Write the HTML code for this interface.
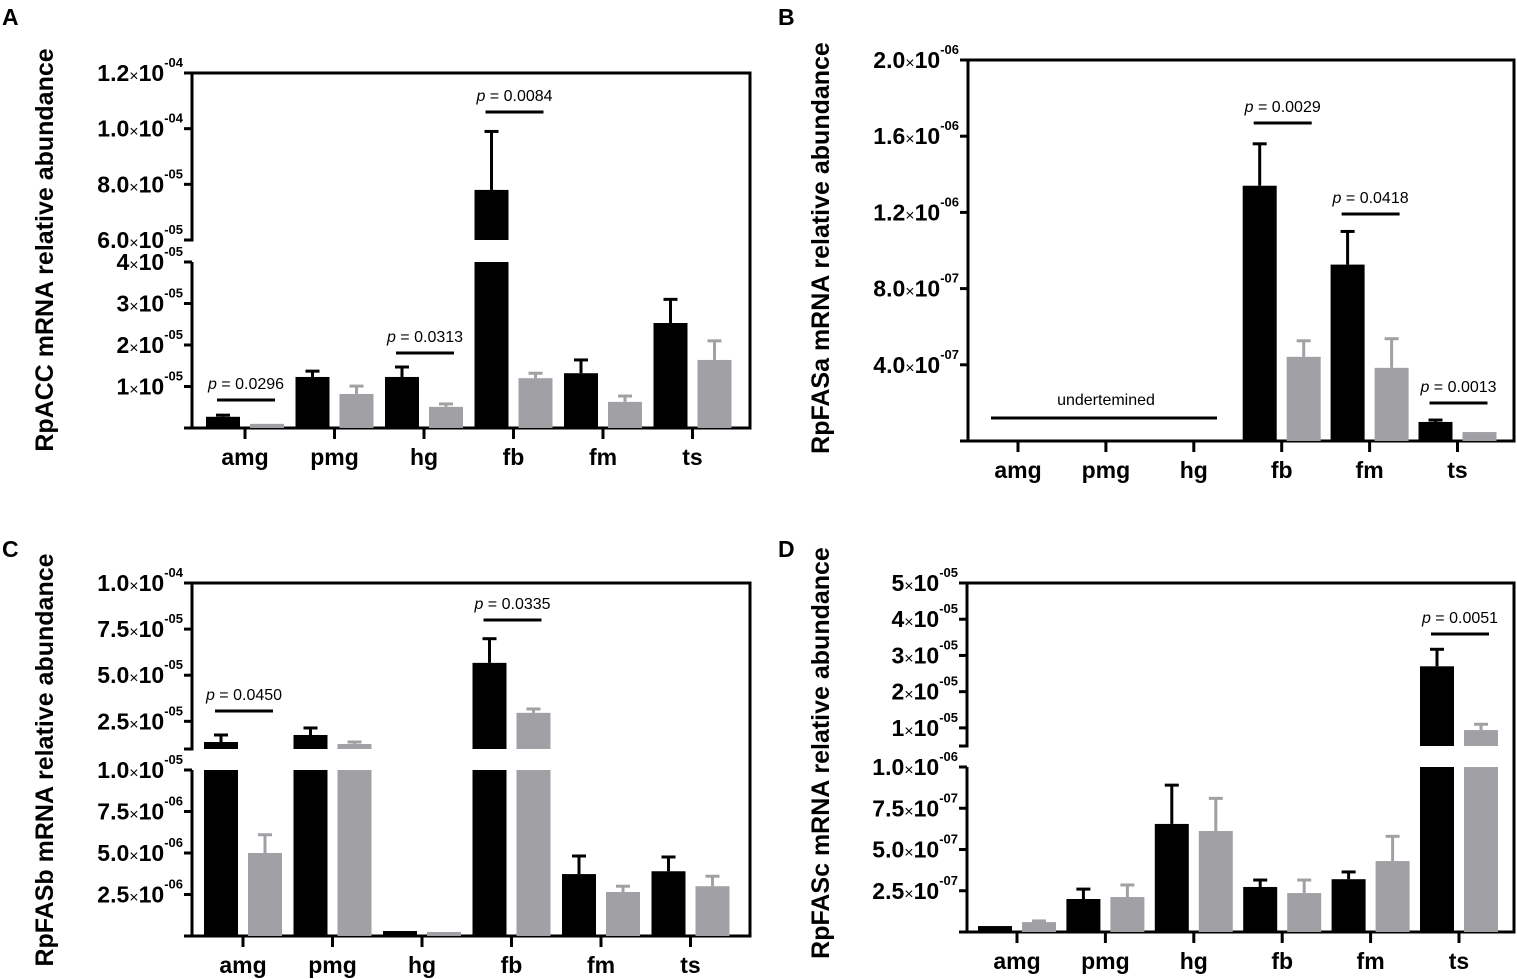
<!DOCTYPE html>
<html><head><meta charset="utf-8"><style>
html,body{margin:0;padding:0;background:#fff;}
svg{display:block;font-family:"Liberation Sans",Arial,sans-serif;}
</style></head><body>
<svg id="fig" width="1517" height="979" viewBox="0 0 1517 979"></svg>
<script>
// ---- data ----
const categories = ["amg","pmg","hg","fb","fm","ts"];
// Panel A RpACC
const aBlack = [2.7e-6, 1.23e-5, 1.23e-5, 7.8e-5, 1.32e-5, 2.53e-5];
const aBlackErr = [3.1e-6, 1.37e-5, 1.47e-5, 9.9e-5, 1.64e-5, 3.1e-5];
const aGray = [1.0e-6, 8.2e-6, 5.1e-6, 1.2e-5, 6.3e-6, 1.64e-5];
const aGrayErr = [1.0e-6, 1.01e-5, 5.8e-6, 1.32e-5, 7.7e-6, 2.1e-5];
const aPvals = [["amg","0.0296"],["hg","0.0313"],["fb","0.0084"]];
// Panel B RpFASa (amg,pmg,hg undetermined)
const bBlack = [null, null, null, 1.34e-6, 9.26e-7, 1.0e-7];
const bBlackErr = [null, null, null, 1.56e-6, 1.1e-6, 1.1e-7];
const bGray = [null, null, null, 4.42e-7, 3.84e-7, 4.7e-8];
const bGrayErr = [null, null, null, 5.26e-7, 5.37e-7, 4.7e-8];
const bPvals = [["fb","0.0029"],["fm","0.0418"],["ts","0.0013"]];
// Panel C RpFASb
const cBlack = [1.38e-5, 1.76e-5, 3.0e-7, 5.67e-5, 3.73e-6, 3.9e-6];
const cBlackErr = [1.76e-5, 2.14e-5, 3.0e-7, 6.98e-5, 4.82e-6, 4.76e-6];
const cGray = [5.0e-6, 1.27e-5, 2.4e-7, 2.96e-5, 2.65e-6, 3.0e-6];
const cGrayErr = [6.1e-6, 1.38e-5, 2.4e-7, 3.17e-5, 3.0e-6, 3.6e-6];
const cPvals = [["amg","0.0450"],["fb","0.0335"]];
// Panel D RpFASc
const dBlack = [3.6e-8, 2.0e-7, 6.55e-7, 2.73e-7, 3.2e-7, 2.7e-5];
const dBlackErr = [3.6e-8, 2.6e-7, 8.9e-7, 3.15e-7, 3.64e-7, 3.17e-5];
const dGray = [6.0e-8, 2.12e-7, 6.12e-7, 2.36e-7, 4.3e-7, 9.4e-6];
const dGrayErr = [6.7e-8, 2.85e-7, 8.1e-7, 3.15e-7, 5.8e-7, 1.1e-5];
const dPvals = [["ts","0.0051"]];
// tick labels
const aTicks = [[1e-5,"1","05"],[2e-5,"2","05"],[3e-5,"3","05"],[4e-5,"4","05"],[6e-5,"6.0","05"],[8e-5,"8.0","05"],[1e-4,"1.0","04"],[1.2e-4,"1.2","04"]];
const bTicks = [[4e-7,"4.0","07"],[8e-7,"8.0","07"],[1.2e-6,"1.2","06"],[1.6e-6,"1.6","06"],[2e-6,"2.0","06"]];
const cTicks = [[2.5e-6,"2.5","06"],[5e-6,"5.0","06"],[7.5e-6,"7.5","06"],[1e-5,"1.0","05"],[2.5e-5,"2.5","05"],[5e-5,"5.0","05"],[7.5e-5,"7.5","05"],[1e-4,"1.0","04"]];
const dTicks = [[2.5e-7,"2.5","07"],[5e-7,"5.0","07"],[7.5e-7,"7.5","07"],[1e-6,"1.0","06"],[1e-5,"1","05"],[2e-5,"2","05"],[3e-5,"3","05"],[4e-5,"4","05"],[5e-5,"5","05"]];

const NS="http://www.w3.org/2000/svg";
const svg=document.getElementById('fig');
function el(tag,attrs,parent){const e=document.createElementNS(NS,tag);for(const k in attrs)e.setAttribute(k,attrs[k]);(parent||svg).appendChild(e);return e;}

function panel(cfg){
  const g=el('g',{});
  
  
  const segs=cfg.segs;
  function y(v){
    for(const s of segs){ if(v<=s.v1 || s===segs[segs.length-1]){ const vv=Math.max(v,s.v0); return s.y0+(vv-s.v0)/(s.v1-s.v0)*(s.y1-s.y0);} }
  }
  function cx(i){return cfg.first+i*cfg.step;}
  const fr=el('path',{d:`M${cfg.x0} ${cfg.top}H${cfg.x1}V${cfg.bottom}H${cfg.x0}`,fill:'none',stroke:'#000','stroke-width':3},g);
  
  
  for(const s of segs){
    const ax=el('line',{x1:cfg.x0,x2:cfg.x0,y1:s.y0+1.5,y2:s.y1,stroke:'#000','stroke-width':3},g);
    
    
    el('line',{x1:cfg.x0-8,x2:cfg.x0,y1:s.y0,y2:s.y0,stroke:'#000','stroke-width':3},g);
    el('line',{x1:cfg.x0-8,x2:cfg.x0,y1:s.y1,y2:s.y1,stroke:'#000','stroke-width':3},g);
  }
  for(const t of cfg.ticks){
    const ty=y(t[0]);
    el('line',{x1:cfg.x0-8,x2:cfg.x0,y1:ty,y2:ty,stroke:'#000','stroke-width':3},g);
    const tx=el('text',{x:cfg.x0-9,y:ty+8,'text-anchor':'end','font-size':23,'font-weight':'bold'},g);
    
    
    const t1=el('tspan',{},tx); t1.textContent=t[1];
    const t2=el('tspan',{'font-size':16,'font-weight':'normal'},tx); t2.textContent='\u00d7';
    const t3=el('tspan',{},tx); t3.textContent='10';
    const t4=el('tspan',{'font-size':13,dy:-14},tx); t4.textContent='-'+t[2];
  }
  categories.forEach((c,i)=>{
    el('line',{x1:cx(i),x2:cx(i),y1:cfg.bottom,y2:cfg.bottom+11,stroke:'#000','stroke-width':3},g);
    const tl=el('text',{x:cx(i),y:cfg.bottom+37,'text-anchor':'middle','font-size':23,'font-weight':'bold'},g);
    
    
    tl.textContent=c;
  });
  const breakTop = segs.length>1 ? segs[0].y1 : null;
  function bar(i,v,e,color,off,name){
    if(v==null) return;
    const x=cx(i)+off-17, w=34, yb=y(0), yv=y(v);
    const ye=y(e);
    if(ye<yv-1){
      el('line',{x1:x+w/2,x2:x+w/2,y1:yv,y2:ye,stroke:color,'stroke-width':3},g);
      el('line',{x1:x+w/2-7,x2:x+w/2+7,y1:ye,y2:ye,stroke:color,'stroke-width':3},g);
    }
    if(segs.length>1 && v>segs[0].v1){
      const r1=el('rect',{x:x,y:breakTop,width:w,height:yb-breakTop,fill:color},g);
      
      
      const r2=el('rect',{x:x,y:yv,width:w,height:segs[1].y0-yv,fill:color},g);
      
      
    } else {
      const r=el('rect',{x:x,y:yv,width:w,height:Math.max(yb-yv,2),fill:color},g);
      
      
    }
  }
  categories.forEach((c,i)=>{
    bar(i,cfg.black[i],cfg.blackErr[i],'#000',-22,'bar-black-'+c);
    bar(i,cfg.gray[i],cfg.grayErr[i],'#a1a1a5',22,'bar-gray-'+c);
  });
  cfg.pv.forEach((p,k)=>{
    const i=categories.indexOf(p[0]);
    const ly=cfg.pY[k];
    const pl=el('line',{x1:cx(i)-28,x2:cx(i)+30,y1:ly,y2:ly,stroke:'#000','stroke-width':3},g);
    
    
    const pt=el('text',{x:cx(i)+1,y:ly-11,'text-anchor':'middle','font-size':16},g);
    
    
    const s1=el('tspan',{'font-style':'italic'},pt); s1.textContent='p';
    const s2=el('tspan',{},pt); s2.textContent=' = '+p[1];
  });
  const yt=el('text',{transform:`translate(${cfg.titleX},${cfg.titleY}) rotate(-90)`,'text-anchor':'middle','font-size':25,'font-weight':'bold'},g);
  
  
  yt.textContent=cfg.title;
  const lt=el('text',{x:cfg.letterX,y:cfg.letterY,'font-size':23,'font-weight':'bold'},g);
  
  
  lt.textContent=cfg.id;
  return {g,y,cx};
}

panel({id:'A',x0:192,x1:750,top:73,bottom:428,first:245,step:89.5,
  segs:[{v0:0,v1:4e-5,y0:428,y1:262},{v0:6e-5,v1:1.2e-4,y0:240,y1:73}],
  ticks:aTicks,black:aBlack,blackErr:aBlackErr,gray:aGray,grayErr:aGrayErr,pv:aPvals,pY:[400,353,112],
  title:'RpACC mRNA relative abundance',titleX:53,titleY:250,letterX:2,letterY:25});
panel({id:'B',x0:968,x1:1514,top:60,bottom:441,first:1018,step:87.9,
  segs:[{v0:0,v1:2e-6,y0:441,y1:60}],
  ticks:bTicks,black:bBlack,blackErr:bBlackErr,gray:bGray,grayErr:bGrayErr,pv:bPvals,pY:[123,214,403],
  title:'RpFASa mRNA relative abundance',titleX:829,titleY:248,letterX:778,letterY:25});
panel({id:'C',x0:192,x1:750,top:583,bottom:936,first:243,step:89.5,
  segs:[{v0:0,v1:1e-5,y0:936,y1:770},{v0:1e-5,v1:1e-4,y0:749,y1:583}],
  ticks:cTicks,black:cBlack,blackErr:cBlackErr,gray:cGray,grayErr:cGrayErr,pv:cPvals,pY:[711,620],
  title:'RpFASb mRNA relative abundance',titleX:53,titleY:760,letterX:2,letterY:557});
panel({id:'D',x0:967,x1:1514,top:583,bottom:932,first:1017,step:88.4,
  segs:[{v0:0,v1:1e-6,y0:932,y1:767},{v0:5e-6,v1:5e-5,y0:746,y1:583}],
  ticks:dTicks,black:dBlack,blackErr:dBlackErr,gray:dGray,grayErr:dGrayErr,pv:dPvals,pY:[634],
  title:'RpFASc mRNA relative abundance',titleX:829,titleY:753,letterX:778,letterY:557});

const ul=el('line',{x1:991,x2:1217,y1:418,y2:418,stroke:'#000','stroke-width':3});


const ut=el('text',{x:1106,y:405,'text-anchor':'middle','font-size':16});


ut.textContent='undertemined';
</script>
</body></html>
